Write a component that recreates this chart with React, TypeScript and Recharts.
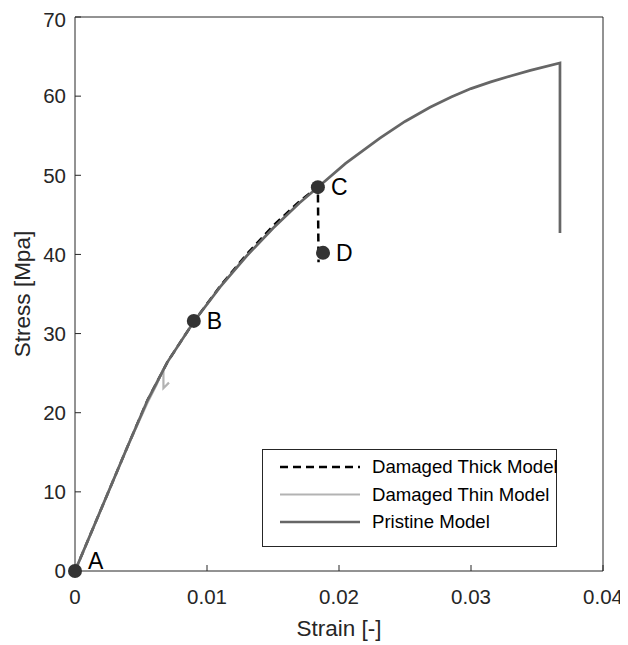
import React from 'react';
import { ComposedChart, Line, Scatter, XAxis, YAxis, Legend, Label } from 'recharts';

// Pristine model stress-strain curve
const pristineStrain = [0, 0.002, 0.004, 0.0055, 0.007, 0.009, 0.011, 0.013, 0.015, 0.017, 0.0184, 0.0205, 0.0231, 0.025, 0.0269, 0.0285, 0.030, 0.0315, 0.033, 0.0345, 0.03674, 0.03674];
const pristineStress = [0, 7.9, 15.8, 21.6, 26.4, 31.5, 35.9, 39.8, 43.3, 46.5, 48.5, 51.5, 54.7, 56.8, 58.6, 59.9, 60.95, 61.8, 62.55, 63.25, 64.2, 42.7];

// Damaged thin model
const thinStrain = [0, 0.002, 0.004, 0.0055, 0.0062, 0.0067, 0.0067, 0.00712];
const thinStress = [0, 7.9, 15.8, 21.3, 23.6, 25.6, 23.1, 23.8];

// Damaged thick model
const thickStrain = [0, 0.002, 0.004, 0.0055, 0.007, 0.009, 0.011, 0.013, 0.015, 0.017, 0.0184, 0.01845];
const thickStress = [0, 7.9, 15.8, 21.6, 26.4, 31.5, 36.0, 40.0, 43.6, 46.7, 48.5, 39.0];

// Marked points
const pointLabels = ['A', 'B', 'C', 'D'];
const pointStrain = [0, 0.009, 0.0184, 0.01879];
const pointStress = [0, 31.6, 48.5, 40.2];

const xTicks = [0, 0.01, 0.02, 0.03, 0.04];
const yTicks = [0, 10, 20, 30, 40, 50, 60, 70];

const seriesNames = ['Damaged Thick Model', 'Damaged Thin Model', 'Pristine Model'];

const zip = (xs: number[], ys: number[]) => xs.map((x, i) => ({ x, y: ys[i] }));
const pristineData = zip(pristineStrain, pristineStress);
const thinData = zip(thinStrain, thinStress);
const thickData = zip(thickStrain, thickStress);
const pointData = pointLabels.map((label, i) => ({ label, x: pointStrain[i], y: pointStress[i] }));

const FONT = '"Liberation Sans", Arial, Helvetica, sans-serif';
const AXIS = '#262626';

const MarkerShape = (props: any) => {
  const { cx, cy, payload } = props;
  const isA = payload.label === 'A';
  return (
    <g>
      <circle cx={cx} cy={cy} r={7} fill="#333333" />
      <text x={cx + 13} y={isA ? cy - 2 : cy + 8} fontSize={23} fill="#000" fontFamily={FONT}>
        {payload.label}
      </text>
    </g>
  );
};

const LegendContent = (props: any) => {
  const items = (props.payload || []).filter((p: any) => p.type !== 'none');
  return (
    <svg width={296} height={99} style={{ display: 'block' }}>
      <rect x={0.5} y={0.5} width={294} height={97} fill="#fff" stroke={AXIS} strokeWidth={1} />
      {items.map((item: any, i: number) => {
        const cy = 18 + i * 27.5;
        const p = item.payload || {};
        return (
          <g key={i}>
            <line x1={18} x2={98} y1={cy} y2={cy} stroke={item.color} strokeWidth={p.strokeWidth || 2.5} strokeDasharray={p.strokeDasharray} />
            <text x={110} y={cy + 6} fontSize={18.6} fill="#000" fontFamily={FONT}>{item.value}</text>
          </g>
        );
      })}
    </svg>
  );
};

const YLabel = (props: any) => {
  const { viewBox } = props;
  const cx = viewBox.x + 14;
  const cy = viewBox.y + viewBox.height / 2;
  return (
    <text x={cx} y={cy} transform={`rotate(-90, ${cx}, ${cy})`} textAnchor="middle" dominantBaseline="central" fontSize={22.5} fill={AXIS} fontFamily={FONT}>
      Stress [Mpa]
    </text>
  );
};

export default function App() {
  const tickStyle = { fill: AXIS, fontSize: 20.5, fontFamily: FONT };
  return (
    <div style={{ width: 620, height: 637 }}>
      <ComposedChart width={620} height={637} margin={{ top: 8, right: 24, bottom: 0, left: 0 }}>
        <XAxis xAxisId={0} dataKey="x" type="number" domain={[0, 0.04]} ticks={xTicks} height={74}
          tick={tickStyle} tickSize={-6} tickMargin={24} stroke={AXIS} tickFormatter={(v: number) => String(v)}>
          <Label value="Strain [-]" position="insideBottom" offset={9} fill={AXIS} fontSize={22.5} fontFamily={FONT} />
        </XAxis>
        <XAxis xAxisId="top" orientation="top" dataKey="x" type="number" domain={[0, 0.04]} ticks={xTicks} height={1}
          tick={false} tickSize={-6} stroke={AXIS} />
        <YAxis yAxisId={0} dataKey="y" type="number" domain={[0, 70]} ticks={yTicks} width={67}
          tick={tickStyle} tickSize={-6} tickMargin={15} stroke={AXIS}>
          <Label content={<YLabel />} />
        </YAxis>
        <YAxis yAxisId="right" orientation="right" dataKey="y" type="number" domain={[0, 70]} ticks={yTicks} width={1}
          tick={false} tickSize={-6} stroke={AXIS} />
        <Line data={thickData} dataKey="y" name={seriesNames[0]} type="linear" stroke="#000000" strokeWidth={2.5}
          strokeDasharray="8 5" dot={false} isAnimationActive={false} />
        <Line data={thinData} dataKey="y" name={seriesNames[1]} type="linear" stroke="#b3b3b3" strokeWidth={2.2}
          dot={false} isAnimationActive={false} />
        <Line data={pristineData} dataKey="y" name={seriesNames[2]} type="linear" stroke="#666666" strokeWidth={2.7}
          dot={false} isAnimationActive={false} />
        <Scatter data={pointData} dataKey="y" legendType="none" shape={<MarkerShape />} isAnimationActive={false} />
        <Legend layout="horizontal" verticalAlign="middle" align="center" content={<LegendContent />}
          wrapperStyle={{ position: 'absolute', left: 254, top: 441, width: 296, height: 99 }} />
      </ComposedChart>
    </div>
  );
}
